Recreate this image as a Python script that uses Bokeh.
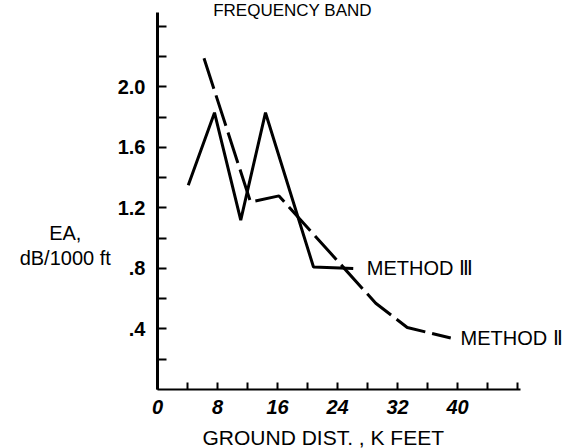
from bokeh.plotting import figure
from bokeh.models import Range1d, FixedTicker, Label
from bokeh.embed import file_html
from bokeh.resources import INLINE

# Method III (solid line)
dist_m3 = [4.1, 7.6, 11.1, 14.4, 20.8, 26.1]
ea_m3 = [1.35, 1.83, 1.12, 1.83, 0.81, 0.80]

# Method II (dashed line)
dist_m2 = [6.2, 12.4, 16.2, 29.1, 33.3, 39.1]
ea_m2 = [2.19, 1.24, 1.28, 0.57, 0.41, 0.34]

x_major = [0, 8, 16, 24, 32, 40]
x_minor = [4, 12, 20, 28, 36, 44, 48]
y_major = [0.4, 0.8, 1.2, 1.6, 2.0]
y_minor = [0.2, 0.6, 1.0, 1.4, 1.8, 2.2, 2.4]
y_labels = [".4", ".8", "1.2", "1.6", "2.0"]

FONT = "Liberation Sans"

# frame covers the whole canvas; axes are pinned at data 0
p = figure(width=575, height=448, output_backend="svg", toolbar_location=None,
           x_range=Range1d(-20.933, 55.733), y_range=Range1d(-0.3901, 2.5719),
           min_border=0)
p.outline_line_color = None
p.xgrid.grid_line_color = None
p.ygrid.grid_line_color = None
p.background_fill_color = "white"
p.border_fill_color = "white"

p.line(dist_m3, ea_m3, line_color="black", line_width=3)
p.line(dist_m2, ea_m2, line_color="black", line_width=3, line_dash="32 7")

# x axis
xa = p.xaxis[0]
xa.fixed_location = 0
xa.bounds = (0, 48.4)
xa.ticker = FixedTicker(ticks=x_major, minor_ticks=x_minor)
xa.major_tick_in = 7
xa.major_tick_out = 0
xa.minor_tick_in = 7
xa.minor_tick_out = 0
xa.axis_line_width = 2
xa.major_tick_line_width = 2
xa.minor_tick_line_width = 2
xa.major_label_text_font = FONT
xa.major_label_text_font_style = "bold italic"
xa.major_label_text_font_size = "20px"
xa.major_label_text_color = "black"
xa.major_label_standoff = 11

# y axis
ya = p.yaxis[0]
ya.fixed_location = 0
ya.bounds = (0, 2.49)
ya.ticker = FixedTicker(ticks=y_major, minor_ticks=y_minor)
ya.major_label_overrides = {v: s for v, s in zip(y_major, y_labels)}
ya.major_tick_in = 9
ya.major_tick_out = 0
ya.minor_tick_in = 9
ya.minor_tick_out = 0
ya.axis_line_width = 3
ya.major_tick_line_width = 2
ya.minor_tick_line_width = 2
ya.major_label_text_font = FONT
ya.major_label_text_font_style = "bold"
ya.major_label_text_font_size = "20px"
ya.major_label_text_color = "black"
ya.major_label_standoff = 12

# x axis title
p.add_layout(Label(x=22.1, y=-0.317, text="GROUND DIST. , K FEET",
                   text_align="center", text_baseline="middle", text_font=FONT,
                   text_font_size="21px", text_color="black"))

# y axis title (horizontal, two lines)
p.add_layout(Label(x=-12.3, y=1.035, text="EA,", text_align="center",
                   text_baseline="middle", text_font=FONT,
                   text_font_size="20px", text_color="black"))
p.add_layout(Label(x=-12.3, y=0.87, text="dB/1000 ft", text_align="center",
                   text_baseline="middle", text_font=FONT,
                   text_font_size="20px", text_color="black"))

# series labels
p.add_layout(Label(x=27.9, y=0.80, text="METHOD Ⅲ", text_align="left",
                   text_baseline="middle", text_font=FONT,
                   text_font_size="20px", text_color="black"))
p.add_layout(Label(x=40.4, y=0.34, text="METHOD Ⅱ", text_align="left",
                   text_baseline="middle", text_font=FONT,
                   text_font_size="20px", text_color="black"))

# title at the very top
p.add_layout(Label(x=18.0, y=2.5719, text="FREQUENCY BAND", text_align="center",
                   text_baseline="top", text_font=FONT,
                   text_font_size="17px", text_color="black"))

open("out.html", "w").write(file_html(p, INLINE))
